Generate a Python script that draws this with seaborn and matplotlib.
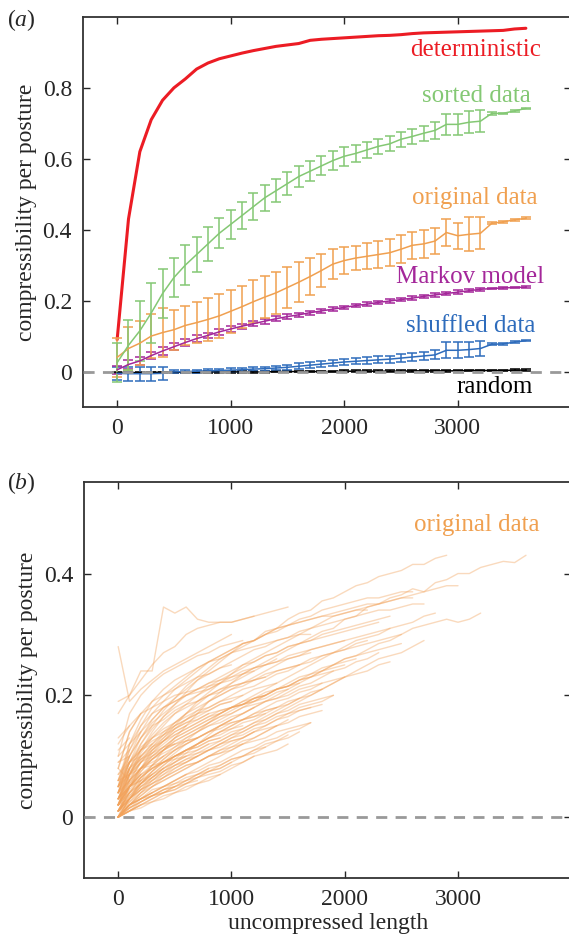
import matplotlib
matplotlib.use("Agg")
import matplotlib.pyplot as plt
import numpy as np
import pandas as pd
import seaborn as sns

# ---------------------------------------------------------------------
# panel (a): mean compressibility, sampled every 100 postures
lengths = list(range(0, 3700, 100))

deterministic = [0.09, 0.43, 0.62, 0.71, 0.765, 0.80, 0.825, 0.853, 0.87, 0.882, 0.89, 0.898,
                 0.905, 0.911, 0.917, 0.921, 0.925, 0.934, 0.937, 0.939, 0.941, 0.943, 0.945,
                 0.947, 0.948, 0.950, 0.953, 0.955, 0.956, 0.957, 0.958, 0.959, 0.960, 0.961,
                 0.962, 0.966, 0.968]

sorted_mean = [0.025, 0.074, 0.115, 0.165, 0.22, 0.265, 0.30, 0.33, 0.36, 0.39, 0.415, 0.44,
               0.465, 0.49, 0.51, 0.53, 0.55, 0.565, 0.58, 0.595, 0.607, 0.615, 0.625, 0.635,
               0.642, 0.655, 0.663, 0.672, 0.68, 0.697, 0.697, 0.703, 0.706, 0.728, 0.728,
               0.735, 0.742]
sorted_err = [0.055, 0.07, 0.085, 0.085, 0.07, 0.055, 0.057, 0.05, 0.047, 0.042, 0.04, 0.039,
              0.038, 0.037, 0.033, 0.033, 0.03, 0.029, 0.027, 0.027, 0.026, 0.023, 0.023, 0.022,
              0.021, 0.021, 0.021, 0.021, 0.023, 0.029, 0.029, 0.031, 0.031, 0.004, 0.002,
              0.002, 0.002]

original_mean = [0.04, 0.065, 0.08, 0.10, 0.11, 0.118, 0.13, 0.138, 0.147, 0.157, 0.17, 0.183,
                 0.197, 0.21, 0.222, 0.237, 0.252, 0.268, 0.285, 0.303, 0.313, 0.32, 0.325,
                 0.33, 0.335, 0.345, 0.356, 0.36, 0.368, 0.392, 0.383, 0.387, 0.39, 0.418,
                 0.422, 0.428, 0.432]
original_err = [0.056, 0.062, 0.062, 0.063, 0.069, 0.056, 0.056, 0.057, 0.06, 0.061, 0.06, 0.059,
                0.061, 0.06, 0.06, 0.058, 0.056, 0.051, 0.046, 0.042, 0.037, 0.035, 0.037,
                0.037, 0.038, 0.04, 0.038, 0.039, 0.036, 0.038, 0.037, 0.048, 0.045, 0.003,
                0.003, 0.003, 0.003]

markov_mean = [0.005, 0.02, 0.03, 0.045, 0.058, 0.07, 0.082, 0.093, 0.102, 0.112, 0.12, 0.128,
               0.135, 0.142, 0.149, 0.155, 0.16, 0.166, 0.171, 0.176, 0.181, 0.186, 0.19, 0.195,
               0.199, 0.203, 0.207, 0.212, 0.216, 0.22, 0.224, 0.228, 0.232, 0.234, 0.236,
               0.237, 0.238]
markov_err = [0.012, 0.012, 0.011, 0.011, 0.01, 0.01, 0.009, 0.009, 0.008, 0.008, 0.008, 0.007,
              0.007, 0.007, 0.007, 0.006, 0.006, 0.006, 0.006, 0.006, 0.005, 0.005, 0.005, 0.005,
              0.005, 0.005, 0.005, 0.005, 0.005, 0.005, 0.005, 0.004, 0.004, 0.002, 0.002,
              0.002, 0.002]

shuffled_mean = [-0.005, -0.006, -0.006, -0.006, -0.005, -0.001, 0.0, 0.001, 0.002, 0.003, 0.004,
                 0.005, 0.007, 0.008, 0.01, 0.012, 0.015, 0.018, 0.021, 0.024, 0.027, 0.029,
                 0.031, 0.033, 0.035, 0.038, 0.041, 0.044, 0.047, 0.06, 0.06, 0.062, 0.065,
                 0.077, 0.078, 0.083, 0.087]
shuffled_err = [0.018, 0.02, 0.02, 0.02, 0.018, 0.004, 0.004, 0.004, 0.004, 0.005, 0.005, 0.005,
                0.006, 0.006, 0.007, 0.007, 0.008, 0.008, 0.008, 0.009, 0.009, 0.009, 0.01, 0.01,
                0.01, 0.011, 0.011, 0.012, 0.013, 0.022, 0.022, 0.022, 0.022, 0.003, 0.002,
                0.002, 0.002]

random_mean = [-0.003, -0.003, -0.003, -0.002, -0.002, -0.002, -0.002, -0.002, -0.001, -0.001,
               -0.001, -0.001, -0.001, -0.001, 0, 0, 0, 0, 0, 0, 0.001, 0.001, 0.001, 0.001,
               0.001, 0.001, 0.002, 0.002, 0.002, 0.002, 0.002, 0.003, 0.003, 0.003, 0.003,
               0.004, 0.004]
random_err = [0.002] * 37

# ---------------------------------------------------------------------
# panel (b): single recordings, each sampled every 100 postures from 0
recordings = [
    [0, .03, .06, .085, .11, .13, .15, .17, .19, .205, .22, .235, .245, .255, .265, .275, .285, .295,
     .305, .31, .325, .33, .345, .35, .36, .365, .375, .37, .385, .39, .40, .40, .41, .415, .42, .418, .43],
    [.02, .07, .11, .14, .165, .185, .205, .225, .24, .255, .27, .285, .29, .305, .31, .325, .335, .34,
     .355, .36, .37, .38, .385, .395, .40, .405, .415, .415, .425, .43],
    [0, .02, .04, .06, .075, .09, .105, .12, .135, .15, .16, .17, .18, .19, .20, .21, .22, .23, .24, .25,
     .26, .265, .275, .285, .29, .30, .31, .315, .32, .325, .32, .325, .335],
    [.01, .05, .08, .11, .13, .15, .17, .19, .205, .22, .235, .25, .26, .27, .28, .29, .30, .31, .32, .33,
     .335, .34, .345, .35, .355, .36, .365, .37, .375, .38, .38],
    [0, .03, .055, .075, .095, .11, .125, .14, .155, .17, .18, .19, .20, .21, .22, .23, .24, .25, .26, .27,
     .28, .29, .295, .30, .31, .315, .32, .33, .335],
    [0, .02, .035, .05, .065, .08, .09, .10, .11, .12, .13, .14, .15, .16, .17, .18, .19, .20, .21, .22,
     .23, .24, .25, .26, .265, .27, .28, .29],
    [.03, .08, .12, .15, .175, .195, .215, .23, .245, .26, .27, .28, .29, .30, .31, .315, .325, .33, .34,
     .345, .35, .355, .36, .36, .365, .37, .37],
    [0, .02, .04, .055, .07, .085, .095, .105, .115, .125, .135, .145, .155, .165, .175, .185, .195, .205,
     .21, .22, .23, .235, .24, .25, .255],
    [.01, .04, .065, .085, .10, .115, .13, .14, .15, .16, .17, .18, .19, .20, .21, .22, .23, .235, .245,
     .25, .26, .265, .27, .275, .28, .285],
    [.02, .06, .09, .115, .135, .155, .17, .185, .2, .21, .22, .23, .24, .25, .255, .265, .27, .275, .28,
     .285, .29, .295, .30, .305, .31],
    [.04, .10, .14, .17, .19, .21, .225, .24, .255, .265, .275, .285, .29, .30, .31, .315, .32, .325, .33,
     .33, .335, .34, .34],
    [.01, .05, .08, .105, .125, .145, .16, .175, .19, .2, .21, .22, .23, .24, .25, .26, .265, .275, .28,
     .285, .29],
    [0, .02, .035, .05, .06, .07, .08, .09, .10, .11, .12, .13, .14, .15, .16, .17, .18, .185, .19, .20],
    [0, .015, .03, .04, .05, .06, .07, .08, .09, .10, .11, .12, .13, .14, .15, .155, .165, .17, .175],
    [.01, .03, .045, .055, .065, .075, .085, .09, .10, .105, .11, .12, .125, .13, .14, .145, .15, .155],
    [.02, .05, .075, .095, .11, .125, .135, .145, .155, .165, .17, .18, .185, .19, .195, .20, .21, .215, .22],
    [.03, .08, .11, .135, .155, .17, .18, .19, .2, .21, .215, .22, .225, .235, .24, .245, .25],
    [0, .03, .05, .065, .08, .09, .10, .105, .11, .12, .125, .13, .14, .145, .15, .16],
    [.05, .12, .16, .19, .21, .225, .235, .245, .255, .26, .27, .275, .28, .285, .29, .295, .30, .30],
    [.02, .06, .09, .11, .125, .14, .15, .16, .17, .175, .18, .185, .19, .195, .205, .21],
    [0, .01, .02, .03, .04, .045, .055, .065, .075, .08, .09, .10, .105, .115],
    [.01, .03, .045, .06, .07, .08, .09, .10, .11, .115, .125, .13, .14],
    [0, .015, .025, .035, .045, .05, .06, .065, .075, .08, .09],
    [.06, .12, .15, .17, .18, .19, .2, .205, .21, .22],
    [.02, .05, .07, .08, .09, .10, .105, .11, .12],
    [0, .015, .025, .035, .04, .045, .055, .06],
    [.04, .08, .10, .115, .125, .14, .15],
    [0, .02, .03, .035, .045, .05],
    [.02, .04, .055, .07, .08],
    [.01, .02, .03, .04],
    [.03, .05, .06],
    [0, .01, .02],
    [.02, .03],
    [.19, .20, .24, .24, .345, .335, .345, .325, .32, .32, .32, .325, .33],
    [.28, .19, .21, .225, .24, .25, .26, .27, .28, .29, .30],
    [.17, .20, .225, .25, .27, .28, .30, .31, .315, .32, .32, .325, .33, .335, .34, .345],
    [.04, .09, .12, .145, .165, .18, .19, .2, .21, .22, .23, .235, .245, .25, .26],
    [.03, .07, .095, .115, .13, .145, .155, .165, .175, .185, .19, .20],
    [.01, .04, .065, .08, .095, .11, .12, .13, .14, .15, .16],
    [.05, .07, .08, .085, .09, .095, .10],
    [0, .02, .03, .04, .05, .055, .065, .07, .08],
    [0, .025, .045, .065, .08, .095, .11, .12, .13, .14, .15, .16, .17, .18, .19, .195, .205, .21, .22,
     .225, .23],
    [.02, .07, .105, .13, .15, .17, .185, .2, .215, .225, .235, .245, .255, .265, .27, .28, .285, .29,
     .295, .30, .305, .31, .315, .32],
    [.01, .035, .055, .07, .085, .10, .11, .12, .13, .14, .15, .16, .165, .175, .18],
    [.08, .14, .17, .18, .19, .2, .205, .21, .215, .22, .225, .235, .24],
    [.04, .07, .09, .10, .11, .12, .125, .13],
    [0, .02, .03, .045, .05, .06, .07, .075, .085, .09, .10, .11, .115, .125, .13, .14, .145, .155],
    [.01, .03, .05, .06, .075, .085, .09, .10, .11, .12, .13, .135, .145, .15, .16, .165, .175, .18, .185],
    [0, .01, .025, .035, .045, .055, .06, .07, .08, .085, .095, .10, .11, .12, .125, .135],
    [.02, .05, .07, .085, .10, .11, .12, .13, .14, .145, .155, .16, .17, .175, .18, .19, .195],
    [.01, .04, .06, .075, .09, .10, .11, .115, .125, .13, .14, .145, .155, .16, .17, .175, .185, .19, .195, .20],
    [.03, .06, .08, .095, .105, .115, .125, .13, .14, .15, .155, .16, .165, .17],
    [.01, .03, .045, .055, .065, .075, .085, .09, .10, .105, .115, .12],
    [.05, .09, .115, .13, .145, .155, .165, .175, .18, .19, .195, .20, .21, .215, .22],
    [.02, .05, .075, .095, .11, .125, .135, .145, .155, .165, .175, .185, .19, .20, .21, .215, .225, .235,
     .24, .25, .255, .26],
    [.03, .07, .1, .12, .14, .155, .17, .18, .19, .20, .21, .215, .225, .23, .24, .245, .25, .26, .265,
     .27, .275, .28, .285, .29, .295, .30],
    [.04, .09, .13, .16, .18, .195, .21, .225, .235, .245, .255, .265, .275, .28, .29, .295, .305, .31,
     .315, .32, .325, .33, .335, .34, .34, .345, .35, .35],
    [.05, .11, .15, .18, .2, .215, .23, .245, .255, .265, .275, .285, .29, .30, .305, .315, .32, .325,
     .33, .335, .34, .345, .35, .35, .355, .36, .36],
    [0, .03, .055, .075, .09, .105, .12, .13, .14, .15, .16, .17, .18, .19, .195, .205, .215, .22, .23,
     .24, .245, .255, .26, .27],
    [.02, .055, .08, .10, .115, .13, .14, .15, .16, .17, .18, .185, .195, .20, .21, .215, .225, .23, .24,
     .245, .25],
    [0, .01, .02, .025, .035, .04, .05, .055, .065, .07, .08, .09, .10],
    [.02, .05, .065, .08, .09, .10, .11, .115, .125, .13],
    [.04, .08, .11, .13, .14, .15, .16, .17, .175, .185, .19],
    [.05, .09, .11, .125, .135, .145, .155, .16, .17],
    [.06, .10, .13, .15, .16, .175, .185, .19, .2, .205, .215, .22, .225, .23],
    [.06, .11, .14, .16, .18, .19, .2, .21, .22, .225, .23, .24, .245, .25, .255, .26, .265, .27],
    [0, .015, .025, .035, .04, .05, .055, .065, .07, .075, .085, .09, .10, .105, .11, .12],
    [0, .01, .02, .03, .04, .05, .06, .07, .075, .085, .095, .10, .11, .115, .125, .13, .14],
    [.01, .035, .055, .07, .085, .10, .11, .12, .13, .14, .145, .155, .16, .17, .18, .185, .195, .20, .21],
    [.02, .04, .055, .065, .075, .085, .095, .10],
    [0, .02, .03, .04, .05, .06, .07],
    [.05, .08, .095, .105, .115, .12],
    [.08, .14, .17, .19, .2, .21, .22, .23, .235, .245, .25],
    [.1, .17, .2, .22, .235, .245, .255, .265, .27, .28, .285, .29],
    [.03, .065, .09, .105, .12, .135, .145, .155, .165, .175, .18, .19, .195, .205, .21, .215, .225, .23,
     .235, .24],
    [.03, .07, .1, .12, .135, .15, .16, .17, .18, .19, .2, .21, .215, .225, .235, .24, .25, .255, .265,
     .27, .275, .285, .29],
    [.01, .025, .04, .05, .06, .07, .08, .09, .10, .11, .115, .125, .13, .14, .15],
    [.03, .06, .08, .095, .11, .12, .13, .14, .15, .155, .165, .17, .18],
    [0, .01, .015, .025, .03, .04, .045, .055, .06, .07],
    [.04, .075, .095, .11, .125, .135, .145, .155, .165, .17, .18, .185, .195, .2, .21, .215, .22],
    [.05, .1, .13, .155, .17, .185, .2, .21, .22, .23, .24, .25, .255, .265, .27, .28, .285, .29, .3,
     .305, .31, .315, .32, .325, .33],
    [.02, .055, .08, .1, .115, .13, .14, .15, .16, .17, .18, .185, .195, .20],
    [.04, .06, .08, .09, .10],
    [.03, .05, .06, .07],
    [.02, .045, .065, .08, .09, .10, .11, .12, .13, .135, .145, .15],
    [.01, .03, .05, .065, .08, .09, .10, .11, .12, .125, .135, .14, .15, .155, .165, .17, .175, .18],
    [.05, .08], [.07, .10], [.09, .11], [.10, .12, .14], [.04, .06], [.06, .09, .10],
    [.12, .15], [.03, .05, .07], [.08, .06], [0, .05, .07], [.02, .08], [.11, .13],
    [.06, .07, .09], [.09, .10], [.01, .04], [.13, .15, .17], [.07, .09, .11, .12], [.04, .09],
]

# ---------------------------------------------------------------------
sns.set_style("ticks")
plt.rcParams['font.family'] = ['Liberation Serif', 'DejaVu Serif']
plt.rcParams['mathtext.fontset'] = 'custom'
plt.rcParams['mathtext.rm'] = 'Liberation Serif'
plt.rcParams['mathtext.it'] = 'Liberation Serif:italic'

RED = '#ec1c24'
GREEN = '#84c874'
ORANGE = '#f0a050'
PURPLE = '#a4279a'
BLUE = '#2e6cbc'
FS = 17
FS_LAB = 18

fig = plt.figure(figsize=(5.69, 9.40), dpi=100)
ax1 = fig.add_axes([0.146, 0.567, 0.858, 0.415])
ax2 = fig.add_axes([0.148, 0.066, 0.856, 0.421])

# panel (a)
sns.lineplot(x=lengths, y=deterministic, color=RED, lw=2.2, ax=ax1)
for mean, err, col in [(random_mean, random_err, 'black'),
                       (shuffled_mean, shuffled_err, BLUE),
                       (markov_mean, markov_err, PURPLE),
                       (original_mean, original_err, ORANGE),
                       (sorted_mean, sorted_err, GREEN)]:
    ax1.errorbar(lengths, mean, yerr=err, color=col, lw=1.1, elinewidth=1.1,
                 capsize=3.5, capthick=1.1)
ax1.axhline(0, color='#999999', lw=2, ls=(0, (4, 3)), zorder=5)

labels_a = [('deterministic', 3730, 0.906, RED),
            ('sorted data', 3640, 0.776, GREEN),
            ('original data', 3700, 0.49, ORANGE),
            ('Markov model', 3765, 0.267, PURPLE),
            ('shuffled data', 3685, 0.129, BLUE),
            ('random', 3660, -0.043, 'black')]
for txt, xx, yy, col in labels_a:
    ax1.text(xx, yy, txt, color=col, fontsize=FS_LAB, ha='right', va='center')

ax1.set_xlim(-300, 4000)
ax1.set_ylim(-0.1, 1.0)
ax1.set_yticks([0, 0.2, 0.4, 0.6, 0.8])
ax1.set_yticklabels(['0', '0.2', '0.4', '0.6', '0.8'])
ax1.set_ylabel('compressibility per posture', fontsize=FS)

# panel (b)
rows = []
for i, rec in enumerate(recordings):
    for j, v in enumerate(rec):
        rows.append((i, j * 100, v))
df = pd.DataFrame(rows, columns=['rec', 'length', 'comp'])
sns.lineplot(data=df, x='length', y='comp', units='rec', estimator=None,
             color='#f2a25a', alpha=0.4, lw=1.0, ax=ax2)
ax2.axhline(0, color='#999999', lw=2, ls=(0, (4, 3)), zorder=5)
ax2.text(3720, 0.48, 'original data', color=ORANGE, fontsize=FS_LAB, ha='right', va='center')
ax2.set_xlim(-300, 4000)
ax2.set_ylim(-0.1, 0.55)
ax2.set_yticks([0, 0.2, 0.4])
ax2.set_yticklabels(['0', '0.2', '0.4'])
ax2.set_ylabel('compressibility per posture', fontsize=FS)
ax2.set_xlabel('uncompressed length', fontsize=FS, labelpad=2)

for ax in (ax1, ax2):
    ax.set_xticks([0, 1000, 2000, 3000])
    ax.tick_params(direction='in', top=True, right=True, length=5, width=1,
                   labelsize=FS, pad=8)
    for s in ax.spines.values():
        s.set_linewidth(1.3)
        s.set_color('#333333')

fig.text(0.012, 0.992, r'($a$)', fontsize=FS, va='top')
fig.text(0.012, 0.500, r'($b$)', fontsize=FS, va='top')

fig.savefig('out.png', dpi=100)
